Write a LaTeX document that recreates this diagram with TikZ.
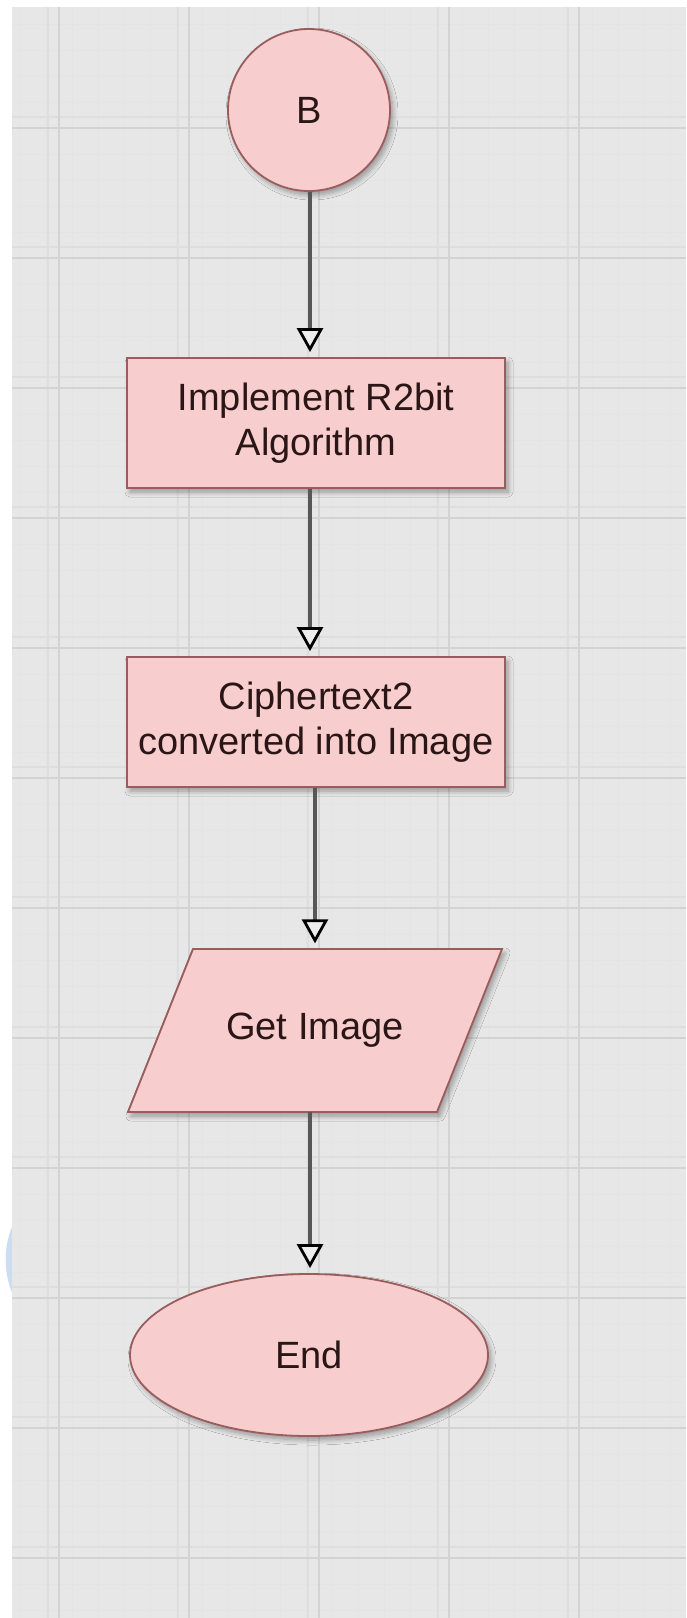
\documentclass[tikz,border=0pt]{standalone}
\usepackage{fontspec}
\setmainfont{Liberation Sans}
\usetikzlibrary{shapes.geometric,arrows.meta,shadows.blur}
\definecolor{bgc}{HTML}{E7E7E7}
\definecolor{gridmaj}{HTML}{D3D3D3}
\definecolor{gridsub}{HTML}{DEDEDE}
\definecolor{gridmin}{HTML}{E4E4E4}
\definecolor{shfill}{HTML}{F8CDCD}
\definecolor{shdraw}{HTML}{9A5C5C}
\definecolor{connc}{HTML}{575757}
\definecolor{tipfill}{HTML}{EDEDED}
\definecolor{arcblue}{HTML}{CCDDF3}
\definecolor{txt}{HTML}{2A1616}
\begin{document}
\begin{tikzpicture}[x=1pt,y=-1pt,
  shapebox/.style={draw=shdraw, line width=1.8pt, fill=shfill,
    blur shadow={shadow xshift=3pt, shadow yshift=-4pt, shadow blur steps=8,
      shadow opacity=35, shadow blur radius=5pt}},
  lbl/.style={text=txt, font=\fontsize{38}{45}\selectfont, align=center},
  connector/.style={draw=connc, line width=4pt, shorten >=5pt,
    -{Triangle[length=24pt,width=26pt,line width=2.8pt,color=black,fill=tipfill]}},
  majline/.style={draw=gridmaj, line width=1.6pt},
  subline/.style={draw=gridsub, line width=1.2pt},
  minline/.style={draw=gridmin, line width=0.6pt}]
\useasboundingbox (0,0) rectangle (686,1618);
\fill[white] (0,0) rectangle (686,1618);
% faint blue arc in the left margin
\draw[arcblue, line width=8pt] (34,1206) .. controls (2,1225) and (2,1292) .. (32,1312);
% canvas
\fill[bgc] (12,7) rectangle (686,1618);
% minor grid
\foreach \k in {0,...,25} {
  \draw[minline] (20+26*\k,7) -- (20+26*\k,1618);
}
\foreach \k in {0,...,62} {
  \draw[minline] (12,24+26*\k) -- (686,24+26*\k);
}
% sub lines (double-line effect)
\foreach \x in {48,178,308,438,568} { \draw[subline] (\x,7) -- (\x,1618); }
\foreach \y in {117,247,377,507,637,767,897,1027,1157,1287,1417,1547} { \draw[subline] (12,\y) -- (686,\y); }
% major grid
\foreach \x in {59,189,319,449,579} { \draw[majline] (\x,7) -- (\x,1618); }
\foreach \y in {128,258,388,518,648,778,908,1038,1168,1298,1428,1558} { \draw[majline] (12,\y) -- (686,\y); }

% nodes
\node[shapebox, circle, minimum size=162pt, inner sep=0pt, lbl] (B) at (309,110) {B};
\node[shapebox, rectangle, minimum width=378pt, minimum height=130pt, inner sep=0pt, lbl] (alg) at (316,423) {Implement R2bit\\Algorithm};
\node[shapebox, rectangle, minimum width=378pt, minimum height=130pt, inner sep=0pt, lbl] (conv) at (316,722) {Ciphertext2\\converted into Image};
\draw[shapebox] (193,949) -- (502,949) -- (437,1112) -- (128,1112) -- cycle;
\node[lbl, minimum width=300pt, minimum height=163pt, inner sep=0pt] (get) at (315,1030) {Get Image};
\node[shapebox, ellipse, minimum width=358pt, minimum height=162pt, inner sep=0pt, lbl] (end) at (309,1355) {End};

% connectors
\draw[connector] (B.south) ++(1,0) coordinate (b1) -- (b1 |- alg.north);
\draw[connector] (alg.south) ++(-6,0) coordinate (a1) -- (a1 |- conv.north);
\draw[connector] (conv.south) ++(-1,0) coordinate (c1) -- (c1 |- get.north);
\draw[connector] (get.south) ++(-5,0) coordinate (g1) -- (g1 |- end.north);
\end{tikzpicture}
\end{document}
